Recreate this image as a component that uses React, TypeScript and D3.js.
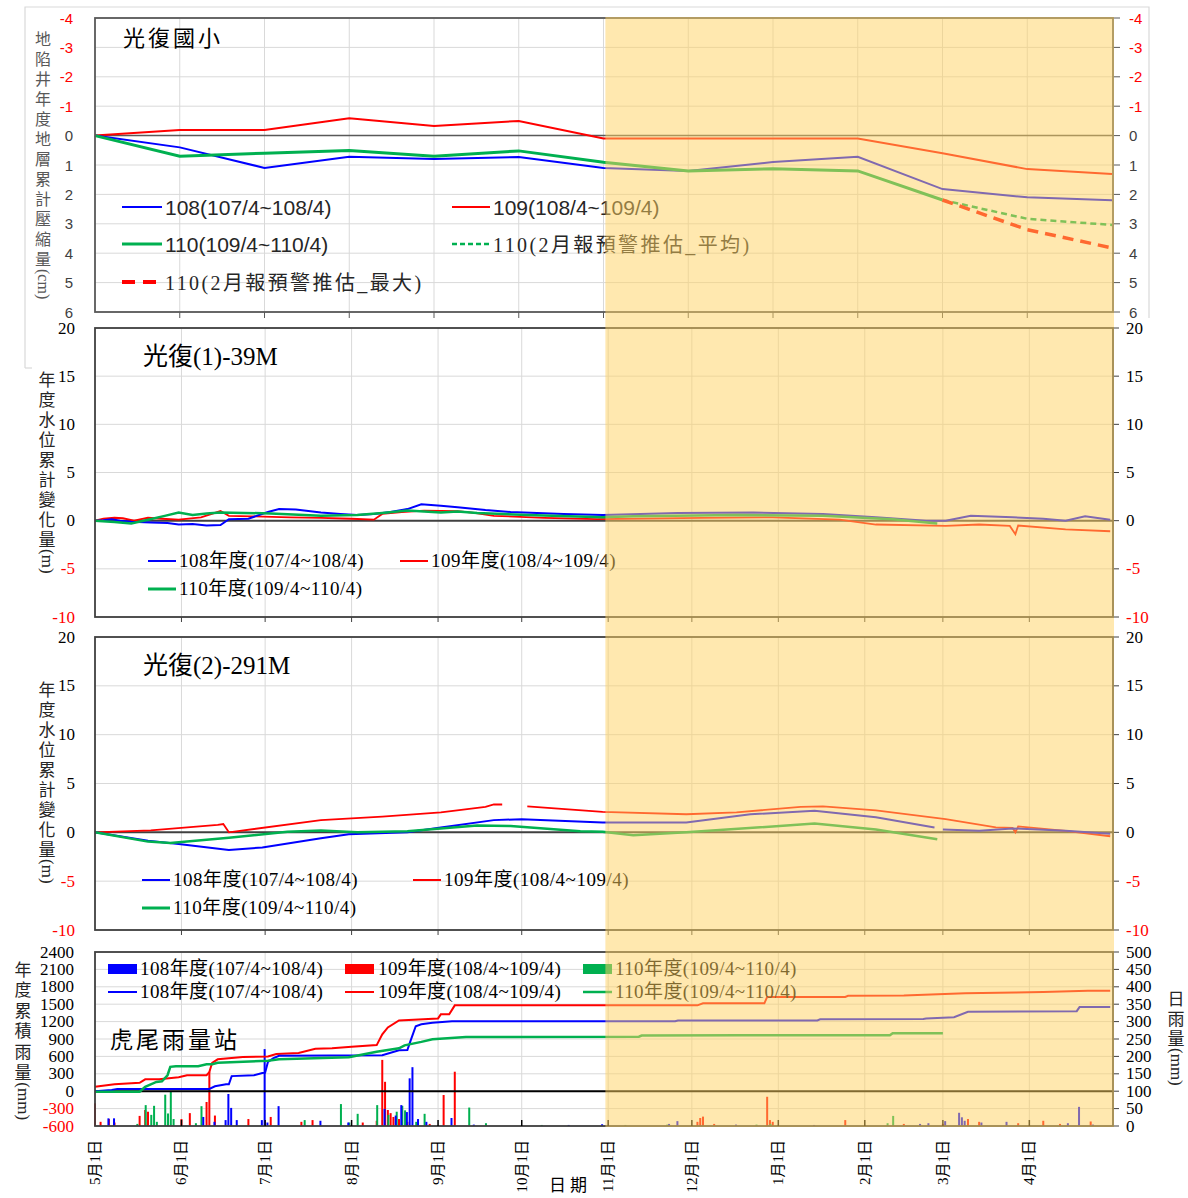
import React from 'react';
import * as d3 from 'd3';

// ---------- common ----------
const START = new Date(2020, 4, 1);
const END = new Date(2021, 4, 1);
const SHADE_START = new Date(2020, 9, 31);
const monthTickLabels = ['5月1日', '6月1日', '7月1日', '8月1日', '9月1日', '10月1日', '11月1日', '12月1日', '1月1日', '2月1日', '3月1日', '4月1日'];

// ---------- panel 1 : 光復國小 (cm, survey index 0..12) ----------
const p1Ticks = [-4, -3, -2, -1, 0, 1, 2, 3, 4, 5, 6];
const p1Blue108 = [0, 0.4, 1.1, 0.72, 0.8, 0.73, 1.1, 1.2, 0.9, 0.72, 1.82, 2.1, 2.2];
const p1Red109 = [0, -0.19, -0.19, -0.59, -0.33, -0.5, 0.1, 0.1, 0.1, 0.1, 0.6, 1.14, 1.31];
const p1Green110 = [0, 0.7, 0.6, 0.51, 0.7, 0.52, 0.91, 1.2, 1.13, 1.2, 2.19];
const p1EstIndex = [10, 11, 12];
const p1EstAvg = [2.19, 2.83, 3.04];
const p1EstMax = [2.19, 3.2, 3.82];

// ---------- panel 2 : 光復(1)-39M (m, [day from 5/1, value]) ----------
const wlTicks = [-10, -5, 0, 5, 10, 15, 20];
const p2Blue108: [number, number][] = [[0, 0], [3, 0.05], [6, 0.15], [9, 0.0], [13, -0.1], [20, -0.2], [26, -0.25], [30, -0.4], [35, -0.35], [40, -0.5], [45, -0.45], [48, 0.15], [55, 0.2], [62, 0.9], [66, 1.2], [72, 1.15], [75, 1.05], [81, 0.85], [88, 0.7], [94, 0.6], [100, 0.7], [106, 0.9], [112, 1.2], [117, 1.7], [124, 1.55], [130, 1.4], [140, 1.1], [149, 0.9], [168, 0.7], [182, 0.6], [209, 0.8], [236, 0.85], [261, 0.7], [280, 0.35], [298, 0.0], [305, 0.0], [314, 0.5], [329, 0.35], [340, 0.2], [348, 0.0], [355, 0.45], [364, 0.1]];
const p2Red109: [number, number][] = [[0, 0], [3, 0.2], [7, 0.3], [10, 0.25], [14, 0], [19, 0.3], [24, 0.2], [30, 0.1], [38, 0.35], [45, 1.0], [48, 0.5], [56, 0.45], [70, 0.35], [81, 0.3], [92, 0.2], [100, 0.1], [103, 0.7], [110, 0.9], [118, 1.05], [130, 1.0], [136, 0.8], [143, 0.5], [161, 0.3], [180, 0.15], [218, 0.3], [243, 0.35], [267, 0.1], [280, -0.4], [305, -0.55], [317, -0.4], [328, -0.55], [330, -1.4], [331, -0.5], [348, -0.9], [364, -1.1]];
const p2Green110: [number, number][] = [[0, 0], [7, -0.15], [13, -0.3], [19, 0.1], [25, 0.5], [30, 0.85], [35, 0.6], [40, 0.75], [45, 0.85], [63, 0.75], [81, 0.5], [94, 0.6], [103, 0.8], [112, 1.05], [124, 0.85], [130, 0.95], [137, 0.8], [155, 0.6], [182, 0.35], [193, 0.45], [230, 0.6], [261, 0.5], [286, 0.15], [302, -0.3]];

// ---------- panel 3 : 光復(2)-291M ----------
const p3Blue108: [number, number][] = [[0, 0], [19, -0.85], [30, -1.2], [48, -1.8], [60, -1.55], [81, -0.6], [91, -0.2], [112, 0], [124, 0.5], [143, 1.25], [153, 1.35], [182, 1.0], [212, 1.0], [235, 1.85], [258, 2.2], [280, 1.55], [301, 0.5], [302.5, NaN], [304, 0.3], [317, 0.15], [329, 0.4], [348, 0.15], [364, -0.15]];
const p3Red109: [number, number][] = [[0, 0], [20, 0.2], [44, 0.77], [46, 0.85], [48, 0.0], [81, 1.25], [103, 1.6], [124, 2.05], [140, 2.6], [143, 2.85], [146, 2.85], [150, NaN], [155, 2.65], [182, 2.1], [212, 1.85], [230, 2.05], [253, 2.6], [261, 2.65], [280, 2.25], [305, 1.35], [323, 0.5], [329, 0.45], [330, 0.0], [331, 0.6], [348, 0.15], [364, -0.4]];
const p3Green110: [number, number][] = [[0, 0], [19, -0.95], [27, -1.1], [48, -0.55], [69, 0.05], [81, 0.2], [94, 0.0], [112, 0.1], [137, 0.7], [149, 0.65], [174, 0.1], [182, 0.05], [193, -0.3], [212, 0], [258, 0.9], [280, 0.3], [302, -0.7]];

// ---------- panel 4 : 虎尾雨量站 ----------
const rainLeftTicks = [-600, -300, 0, 300, 600, 900, 1200, 1500, 1800, 2100, 2400];
const rainRightTicks = [0, 50, 100, 150, 200, 250, 300, 350, 400, 450, 500];
const cumBlue108: [number, number][] = [[0, 0], [6, 20], [8, 40], [41, 40], [43, 85], [47, 120], [48, 120], [49, 260], [57, 275], [60, 315], [61, 320], [62, 505], [64, 570], [66, 610], [103, 620], [109, 705], [112, 710], [113, 850], [115, 1120], [117, 1155], [121, 1180], [128, 1205], [208, 1205], [209, 1220], [259, 1220], [260, 1240], [297, 1245], [298, 1255], [308, 1275], [313, 1370], [352, 1380], [353, 1450], [364, 1450]];
const cumRed109: [number, number][] = [[0, 75], [7, 120], [16, 145], [18, 205], [23, 205], [30, 240], [33, 275], [40, 275], [41, 330], [42, 490], [44, 550], [53, 590], [62, 600], [65, 640], [73, 660], [79, 730], [85, 740], [92, 765], [101, 795], [103, 980], [105, 1100], [109, 1220], [123, 1255], [124, 1325], [127, 1325], [129, 1480], [216, 1480], [218, 1515], [240, 1515], [241, 1625], [269, 1625], [270, 1645], [290, 1650], [312, 1690], [330, 1700], [340, 1712], [356, 1730], [364, 1730]];
const cumGreen110: [number, number][] = [[0, -10], [16, -10], [18, 75], [22, 160], [24, 170], [26, 275], [27, 420], [29, 430], [37, 430], [40, 465], [42, 465], [44, 490], [62, 525], [66, 550], [91, 585], [101, 680], [109, 740], [111, 790], [117, 850], [121, 895], [133, 935], [195, 940], [196, 960], [232, 965], [285, 965], [286, 1000], [304, 1000]];
const dayBlue108: [number, number][] = [[5, 22], [7, 22], [39, 26], [43, 12], [47, 17], [48, 92], [49, 52], [51, 17], [60, 17], [61, 221], [62, 10], [66, 57], [81, 15], [91, 10], [104, 49], [108, 30], [110, 60], [112, 40], [113, 137], [114, 169], [116, 20], [119, 12], [128, 23], [136, 4], [170, 3], [182, 5], [206, 6], [209, 14], [230, 4], [258, 3], [296, 6], [299, 8], [305, 14], [310, 38], [311, 25], [312, 15], [318, 10], [327, 12], [349, 8], [353, 55], [358, 4]];
const dayRed109: [number, number][] = [[0, 65], [2, 12], [5, 20], [7, 10], [16, 29], [18, 46], [19, 41], [31, 20], [34, 37], [40, 69], [41, 156], [43, 30], [55, 20], [63, 26], [74, 12], [78, 17], [96, 10], [101, 15], [103, 190], [104, 127], [105, 46], [106, 37], [107, 26], [109, 20], [112, 12], [120, 6], [125, 89], [129, 156], [216, 12], [217, 23], [218, 27], [222, 6], [241, 84], [242, 17], [243, 12], [269, 17], [290, 6], [304, 6], [313, 20], [317, 12], [331, 8], [340, 15], [346, 6], [357, 13]];
const dayGreen110: [number, number][] = [[15, 6], [18, 60], [20, 32], [21, 58], [22, 12], [25, 90], [26, 36], [27, 99], [28, 20], [36, 8], [38, 57], [75, 17], [88, 63], [91, 10], [94, 35], [101, 60], [105, 32], [108, 41], [110, 58], [111, 45], [115, 12], [118, 35], [134, 53], [140, 8], [160, 3], [190, 3], [205, 4], [237, 4], [242, 6], [284, 8], [286, 29]];

// ---------- styling ----------
const BLUE = '#0000FF';
const RED = '#FF0000';
const GREEN = '#00B050';
const GRID = '#D9D9D9';
const FRAME = '#404040';
const SANS = "'Liberation Sans', Arial, sans-serif";
const SERIF = "'Liberation Serif', 'Noto Sans CJK TC', serif";
const CJK = "'Noto Sans CJK TC', sans-serif";

const X0 = 95;
const X1 = 1113;
const xT = d3.scaleTime().domain([START, END]).range([X0, X1]);
const xC = d3.scaleLinear().domain([0, 12]).range([X0, 1112]);
const y1 = d3.scaleLinear().domain([-4, 6]).range([18, 312]);
const y2 = d3.scaleLinear().domain([-10, 20]).range([617, 328]);
const y3 = d3.scaleLinear().domain([-10, 20]).range([930, 637]);
const y4L = d3.scaleLinear().domain([-600, 2400]).range([1126, 952]);
const y4R = d3.scaleLinear().domain([0, 500]).range([1126, 952]);
const months = d3.timeMonth.range(START, END);
const dd = (d: number) => d3.timeDay.offset(START, Math.floor(d)).getTime() + (d % 1) * 86400000;

function dayLine(y: d3.ScaleLinear<number, number>) {
  return d3.line<[number, number]>()
    .defined(d => !isNaN(d[1]))
    .x(d => xT(dd(d[0])))
    .y(d => y(d[1]));
}

function VTitle({ x, y0, step, chars, unit, size, color }: { x: number; y0: number; step: number; chars: string; unit: string; size: number; color: string }) {
  const arr = Array.from(chars);
  const n = arr.length;
  return (
    <g fill={color}>
      {arr.map((c, i) => (
        <text key={i} x={x} y={y0 + i * step} textAnchor="middle" dominantBaseline="central" fontFamily={CJK} fontSize={size}>{c}</text>
      ))}
      <text transform={`translate(${x},${y0 + (n - 1) * step + step / 2 + 1}) rotate(90)`} textAnchor="start" dominantBaseline="central" fontFamily={SERIF} fontSize={size}>{unit}</text>
    </g>
  );
}

function WaterPanel({ y, title, blue, red, green, legend }: { y: d3.ScaleLinear<number, number>; title: string; blue: [number, number][]; red: [number, number][]; green: [number, number][]; legend: { x1: number; r1: number; ya: number; yb: number } }) {
  const line = dayLine(y);
  const [yb, yt] = y.range();
  return (
    <g>
      {wlTicks.map(t => <line key={'h' + t} x1={X0} x2={X1} y1={y(t)} y2={y(t)} stroke={GRID} strokeWidth={1} />)}
      {months.slice(1).map((m, i) => <line key={'v' + i} x1={xT(m)} x2={xT(m)} y1={yt} y2={yb} stroke={GRID} strokeWidth={1} />)}
      <line x1={X0} x2={X1} y1={y(0)} y2={y(0)} stroke={FRAME} strokeWidth={2} />
      <path d={line(red) || ''} fill="none" stroke={RED} strokeWidth={1.8} />
      <path d={line(blue) || ''} fill="none" stroke={BLUE} strokeWidth={2} />
      <path d={line(green) || ''} fill="none" stroke={GREEN} strokeWidth={2.5} />
      <rect x={X0} y={yt} width={X1 - X0} height={yb - yt} fill="none" stroke={FRAME} strokeWidth={1.8} />
      {months.slice(1).map((m, i) => <line key={'t' + i} x1={xT(m)} x2={xT(m)} y1={yb} y2={yb + 5} stroke={FRAME} strokeWidth={1} />)}
      {wlTicks.map(t => <line key={'r' + t} x1={X1} x2={X1 + 6} y1={y(t)} y2={y(t)} stroke={FRAME} strokeWidth={1} />)}
      {wlTicks.map(t => (
        <text key={'l' + t} x={75} y={y(t)} textAnchor="end" dominantBaseline="central" fontFamily={SERIF} fontSize={17} fill={t < 0 ? RED : '#000'}>{t}</text>
      ))}
      {wlTicks.map(t => (
        <text key={'rr' + t} x={1126} y={y(t)} textAnchor="start" dominantBaseline="central" fontFamily={SERIF} fontSize={17} fill={t < 0 ? RED : '#000'}>{t}</text>
      ))}
      <text x={143} y={yt + 37} fontFamily={SERIF} fontSize={25} fill="#000">{title}</text>
      <line x1={legend.x1} x2={legend.x1 + 28} y1={legend.ya} y2={legend.ya} stroke={BLUE} strokeWidth={2} />
      <text x={legend.x1 + 31} y={legend.ya + 6} fontFamily={SERIF} fontSize={19} letterSpacing={0.5} fill="#000">108年度(107/4~108/4)</text>
      <line x1={legend.r1} x2={legend.r1 + 28} y1={legend.ya} y2={legend.ya} stroke={RED} strokeWidth={2} />
      <text x={legend.r1 + 31} y={legend.ya + 6} fontFamily={SERIF} fontSize={19} letterSpacing={0.5} fill="#000">109年度(108/4~109/4)</text>
      <line x1={legend.x1} x2={legend.x1 + 28} y1={legend.yb} y2={legend.yb} stroke={GREEN} strokeWidth={3} />
      <text x={legend.x1 + 31} y={legend.yb + 6} fontFamily={SERIF} fontSize={19} letterSpacing={0.5} fill="#000">110年度(109/4~110/4)</text>
    </g>
  );
}

export default function App() {
  const cLine = (vals: number[], idx?: number[]) => d3.line<number>()
    .x((_, i) => xC(idx ? idx[i] : i))
    .y(v => y1(v))(vals) || '';
  const rainLine = dayLine(y4L);
  const bars = (data: [number, number][], color: string, off: number) => data.map((d, i) => (
    <rect key={color + i} x={xT(dd(d[0])) - 1 + off} y={y4R(d[1])} width={2} height={y4R(0) - y4R(d[1])} fill={color} />
  ));
  const cats = d3.range(0, 13);
  return (
    <svg width={1188} height={1198} style={{ position: 'absolute', left: 0, top: 0, display: 'block', background: '#fff' }}>
      <rect x={0} y={0} width={1188} height={1198} fill="#fff" />
      {/* outer border of top chart */}
      <path d="M25,368 V7 H1149 V318" fill="none" stroke={GRID} strokeWidth={1.2} />
      <path d="M25,368 H32" fill="none" stroke={GRID} strokeWidth={1.2} />

      {/* ---------- panel 1 ---------- */}
      <g>
        {p1Ticks.map(t => <line key={'h' + t} x1={X0} x2={X1} y1={y1(t)} y2={y1(t)} stroke={GRID} strokeWidth={1} />)}
        {cats.slice(1, 12).map(c => <line key={'v' + c} x1={xC(c)} x2={xC(c)} y1={18} y2={312} stroke={GRID} strokeWidth={1} />)}
        <line x1={X0} x2={X1} y1={y1(0)} y2={y1(0)} stroke="#595959" strokeWidth={1.5} />
        <path d={cLine(p1Red109)} fill="none" stroke={RED} strokeWidth={2} />
        <path d={cLine(p1Blue108)} fill="none" stroke={BLUE} strokeWidth={2} />
        <path d={cLine(p1Green110)} fill="none" stroke={GREEN} strokeWidth={3} />
        <path d={cLine(p1EstAvg, p1EstIndex)} fill="none" stroke={GREEN} strokeWidth={2.5} strokeDasharray="6,4" />
        <path d={cLine(p1EstMax, p1EstIndex)} fill="none" stroke={RED} strokeWidth={3.5} strokeDasharray="11,7" />
        <rect x={X0} y={18} width={X1 - X0} height={294} fill="none" stroke="#595959" strokeWidth={1.8} />
        {cats.slice(1, 12).map(c => <line key={'t' + c} x1={xC(c)} x2={xC(c)} y1={312} y2={318} stroke="#595959" strokeWidth={1} />)}
        {p1Ticks.map(t => <line key={'r' + t} x1={X1} x2={X1 + 7} y1={y1(t)} y2={y1(t)} stroke="#595959" strokeWidth={1} />)}
        {p1Ticks.map(t => (
          <text key={'l' + t} x={73} y={y1(t)} textAnchor="end" dominantBaseline="central" fontFamily={SANS} fontSize={15} fill={t < 0 ? RED : '#404040'}>{t}</text>
        ))}
        {p1Ticks.map(t => (
          <text key={'rr' + t} x={1129} y={y1(t)} textAnchor="start" dominantBaseline="central" fontFamily={SANS} fontSize={15} fill={t < 0 ? RED : '#404040'}>{t}</text>
        ))}
        <text x={123} y={46} fontFamily={CJK} fontSize={22} letterSpacing={3} fill="#000">光復國小</text>
        <line x1={122} x2={162} y1={207} y2={207} stroke={BLUE} strokeWidth={2} />
        <text x={165} y={215} fontFamily={SANS} fontSize={21} fill="#262626">108(107/4~108/4)</text>
        <line x1={452} x2={490} y1={207} y2={207} stroke={RED} strokeWidth={2} />
        <text x={493} y={215} fontFamily={SANS} fontSize={21} fill="#262626">109(108/4~109/4)</text>
        <line x1={122} x2={162} y1={244} y2={244} stroke={GREEN} strokeWidth={3} />
        <text x={165} y={252} fontFamily={SANS} fontSize={21} fill="#262626">110(109/4~110/4)</text>
        <line x1={452} x2={490} y1={244} y2={244} stroke={GREEN} strokeWidth={2.5} strokeDasharray="5,3" />
        <text x={493} y={252} fontFamily={SERIF} fontSize={20} letterSpacing={2.4} fill="#262626">110(2月報預警推估_平均)</text>
        <line x1={122} x2={162} y1={282} y2={282} stroke={RED} strokeWidth={4} strokeDasharray="13,8" />
        <text x={165} y={290} fontFamily={SERIF} fontSize={20} letterSpacing={2.4} fill="#262626">110(2月報預警推估_最大)</text>
        <VTitle x={43} y0={38} step={20} chars="地陷井年度地層累計壓縮量" unit="(cm)" size={16} color="#595959" />
      </g>

      {/* ---------- panel 2 ---------- */}
      <WaterPanel y={y2} title="光復(1)-39M" blue={p2Blue108} red={p2Red109} green={p2Green110}
        legend={{ x1: 148, r1: 400, ya: 561, yb: 589 }} />
      <VTitle x={47} y0={378} step={20} chars="年度水位累計變化量" unit="(m)" size={17} color="#262626" />

      {/* ---------- panel 3 ---------- */}
      <WaterPanel y={y3} title="光復(2)-291M" blue={p3Blue108} red={p3Red109} green={p3Green110}
        legend={{ x1: 142, r1: 413, ya: 880, yb: 908 }} />
      <VTitle x={47} y0={688} step={20} chars="年度水位累計變化量" unit="(m)" size={17} color="#262626" />

      {/* ---------- panel 4 ---------- */}
      <g>
        {rainLeftTicks.map(t => <line key={'h' + t} x1={X0} x2={X1} y1={y4L(t)} y2={y4L(t)} stroke={GRID} strokeWidth={1} />)}
        {months.slice(1).map((m, i) => <line key={'v' + i} x1={xT(m)} x2={xT(m)} y1={952} y2={1126} stroke={GRID} strokeWidth={1} />)}
        {bars(dayRed109, RED, 0)}
        {bars(dayGreen110, GREEN, 0.5)}
        {bars(dayBlue108, BLUE, -0.5)}
        <line x1={X0} x2={X1} y1={y4L(0)} y2={y4L(0)} stroke="#000" strokeWidth={2} />
        <path d={rainLine(cumRed109) || ''} fill="none" stroke={RED} strokeWidth={2} />
        <path d={rainLine(cumBlue108) || ''} fill="none" stroke={BLUE} strokeWidth={2} />
        <path d={rainLine(cumGreen110) || ''} fill="none" stroke={GREEN} strokeWidth={2.5} />
        <rect x={X0} y={952} width={X1 - X0} height={174} fill="none" stroke={FRAME} strokeWidth={1.8} />
        {months.slice(1).map((m, i) => <line key={'t' + i} x1={xT(m)} x2={xT(m)} y1={1126} y2={1120} stroke="#000" strokeWidth={1.5} />)}
        {rainRightTicks.map(t => <line key={'r' + t} x1={X1} x2={X1 + 6} y1={y4R(t)} y2={y4R(t)} stroke={FRAME} strokeWidth={1} />)}
        {rainLeftTicks.map(t => (
          <text key={'l' + t} x={74} y={y4L(t)} textAnchor="end" dominantBaseline="central" fontFamily={SERIF} fontSize={17} fill={t < 0 ? RED : '#000'}>{t}</text>
        ))}
        {rainRightTicks.map(t => (
          <text key={'rr' + t} x={1126} y={y4R(t)} textAnchor="start" dominantBaseline="central" fontFamily={SERIF} fontSize={17} fill="#000">{t}</text>
        ))}
        <text x={110} y={1048} fontFamily={CJK} fontSize={23} letterSpacing={3} fill="#000">虎尾雨量站</text>
        {/* legend */}
        <rect x={108} y={964} width={29} height={10} fill={BLUE} />
        <text x={140} y={975} fontFamily={SERIF} fontSize={19} letterSpacing={0.4} fill="#000">108年度(107/4~108/4)</text>
        <rect x={345} y={964} width={29} height={10} fill={RED} />
        <text x={378} y={975} fontFamily={SERIF} fontSize={19} letterSpacing={0.4} fill="#000">109年度(108/4~109/4)</text>
        <rect x={583} y={964} width={29} height={10} fill={GREEN} />
        <text x={615} y={975} fontFamily={SERIF} fontSize={19} letterSpacing={0.4} fill="#000">110年度(109/4~110/4)</text>
        <line x1={108} x2={137} y1={992} y2={992} stroke={BLUE} strokeWidth={2} />
        <text x={140} y={998} fontFamily={SERIF} fontSize={19} letterSpacing={0.4} fill="#000">108年度(107/4~108/4)</text>
        <line x1={345} x2={374} y1={992} y2={992} stroke={RED} strokeWidth={2} />
        <text x={378} y={998} fontFamily={SERIF} fontSize={19} letterSpacing={0.4} fill="#000">109年度(108/4~109/4)</text>
        <line x1={583} x2={612} y1={992} y2={992} stroke={GREEN} strokeWidth={2.5} />
        <text x={615} y={998} fontFamily={SERIF} fontSize={19} letterSpacing={0.4} fill="#000">110年度(109/4~110/4)</text>
        <VTitle x={23} y0={968} step={20.6} chars="年度累積雨量" unit="(mm)" size={17} color="#262626" />
        <VTitle x={1176} y0={997} step={20} chars="日雨量" unit="(mm)" size={17} color="#262626" />
      </g>

      {/* x axis labels */}
      {months.map((m, i) => (
        <text key={'xl' + i} transform={`translate(${xT(m)},1140) rotate(-90)`} textAnchor="end" dominantBaseline="central" fontFamily={SERIF} fontSize={15} fill="#000">{monthTickLabels[i]}</text>
      ))}
      <text x={570} y={1191} textAnchor="middle" fontFamily={CJK} fontSize={17} letterSpacing={4} fill="#000">日期</text>

      {/* translucent highlight of the forecast period */}
      <rect x={xT(SHADE_START)} y={17} width={X1 + 1 - xT(SHADE_START)} height={1110} fill="rgb(255,210,95)" fillOpacity={0.5} />
    </svg>
  );
}
